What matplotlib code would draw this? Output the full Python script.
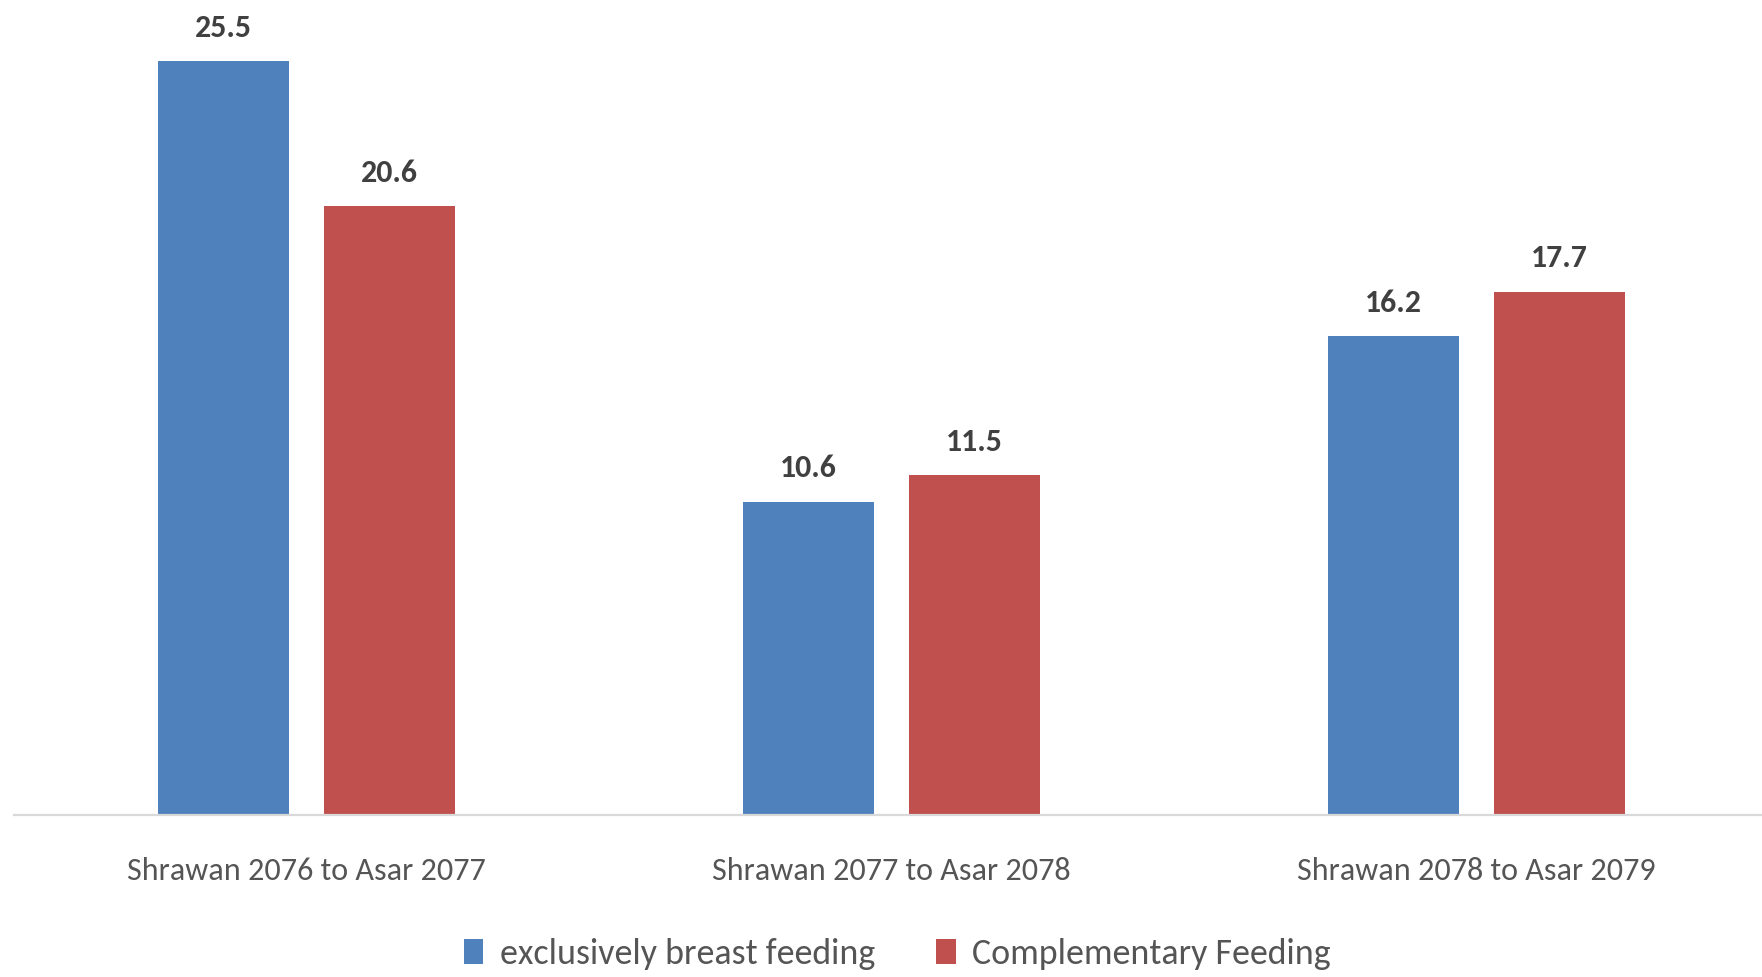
import matplotlib
matplotlib.use("Agg")
import matplotlib.pyplot as plt
import numpy as np
from matplotlib.patches import Patch
from matplotlib import font_manager

categories = ["Shrawan 2076 to Asar 2077", "Shrawan 2077 to Asar 2078", "Shrawan 2078 to Asar 2079"]
series_names = ["exclusively breast feeding", "Complementary Feeding"]
ebf = [25.5, 10.6, 16.2]
cf = [20.6, 11.5, 17.7]

colors = ["#4F81BD", "#C0504D"]

available = {f.name for f in font_manager.fontManager.ttflist}
candidates = ["Carlito", "Liberation Sans Narrow", "DejaVu Sans Condensed", "Roboto Condensed",
              "Open Sans Condensed", "Noto Sans Condensed", "Lato", "Open Sans"]
chosen = next((c for c in candidates if c in available), "DejaVu Sans")
plt.rcParams['font.family'] = [chosen, 'DejaVu Sans']

W, H = 1762, 977
fig = plt.figure(figsize=(W / 100, H / 100), dpi=100)
ax = fig.add_axes([14 / W, (H - 815) / H, 1755 / W, 815 / H])
renderer = fig.canvas.get_renderer()


def fit_size(text, target_px, weight="normal", base=25):
    t = fig.text(0, 0, text, fontsize=base, fontweight=weight)
    w = t.get_window_extent(renderer).width
    t.remove()
    return base * target_px / w


cat_fs = min(fit_size(categories[0], 358), 27)
leg_fs = min(fit_size(series_names[0], 375), 29)
lab_fs = min(fit_size("25.5", 57, weight="bold"), 27)

x = np.arange(len(categories))
bw = 0.224
off = 0.142
b1 = ax.bar(x - off, ebf, bw, color=colors[0], label=series_names[0])
b2 = ax.bar(x + off, cf, bw, color=colors[1], label=series_names[1])

for bars, vals in ((b1, ebf), (b2, cf)):
    for r, v in zip(bars, vals):
        ax.annotate(f"{v:.1f}", (r.get_x() + r.get_width() / 2, v),
                    xytext=(0, 17.5), textcoords="offset points",
                    ha="center", va="baseline", fontsize=lab_fs, fontweight="bold",
                    color="#404040")

ax.set_xlim(-0.5, 2.5)
ax.set_ylim(0, 815 / 29.57)
ax.set_xticks(x)
ax.set_xticklabels(categories, fontsize=cat_fs, color="#555555")
ax.tick_params(axis="x", length=0, pad=30)
ax.set_yticks([])
for s in ("top", "left", "right"):
    ax.spines[s].set_visible(False)
ax.spines["bottom"].set_color("#D9D9D9")
ax.spines["bottom"].set_linewidth(1.6)

handles = [Patch(facecolor=c) for c in colors]
fig.legend(handles, series_names, loc="center", bbox_to_anchor=(897 / W, 1 - 954 / H),
           ncol=2, frameon=False, prop={"size": leg_fs},
           handlelength=0.55, handleheight=0.7,
           handletextpad=0.45, columnspacing=1.7, labelcolor="#555555")

fig.savefig("out.png", dpi=100)
